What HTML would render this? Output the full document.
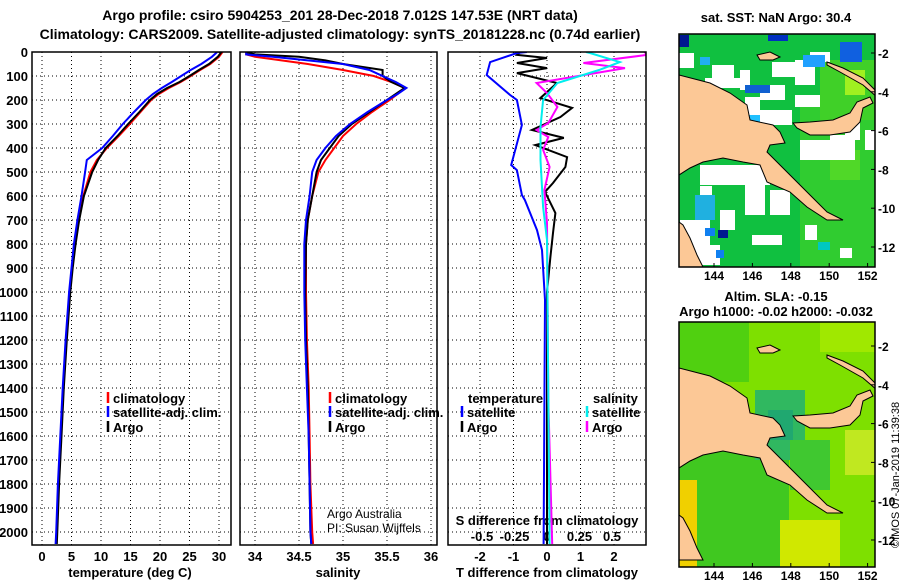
<!DOCTYPE html>
<html><head><meta charset="utf-8"><style>
body{margin:0;background:#fff;}
svg{display:block;font-family:"Liberation Sans",sans-serif;}
.b{font-weight:bold;font-size:13px;}
.m{font-weight:bold;font-size:12px;}
.t{font-weight:bold;font-size:14px;}
</style></head><body>
<svg id="c" width="900" height="580" viewBox="0 0 900 580"></svg>
<script>
// ---- data ----
const tempDepth=[0,20,50,75,100,125,150,175,200,250,300,350,400,450,500,600,700,800,900,1000,1200,1400,1600,1800,2000,2050];
const tempArgo=[30.4,29.8,28.3,26.6,25.0,23.3,21.2,19.5,18.3,16.5,14.6,12.8,10.8,9.5,8.5,7.1,6.3,5.7,5.2,4.8,4.2,3.7,3.3,2.9,2.6,2.5];
const tempClim=[30.6,30.0,28.5,26.8,25.2,23.5,21.5,19.8,18.5,16.7,14.9,13.0,11.0,9.3,8.2,7.0,6.2,5.6,5.1,4.7,4.1,3.6,3.2,2.8,2.5,2.4];
const tempSat=[29.7,28.8,27.0,25.2,23.6,22.0,20.3,18.8,17.6,15.6,13.7,12.0,10.2,7.6,7.3,6.7,6.0,5.4,5.0,4.6,4.0,3.5,3.1,2.7,2.4,2.3];
const salDepth=[0,10,20,35,50,75,100,125,150,175,200,250,300,350,400,450,500,600,700,800,1000,1200,1400,1600,1800,2000,2050];
const salArgo=[33.9,34.0,34.5,34.8,35.0,35.45,35.45,35.55,35.7,35.6,35.5,35.3,35.1,34.95,34.85,34.75,34.7,34.65,34.6,34.58,34.57,34.58,34.6,34.61,34.62,34.63,34.64];
const salClim=[33.9,33.9,34.0,34.3,34.6,35.0,35.35,35.55,35.7,35.62,35.53,35.33,35.15,35.0,34.9,34.8,34.72,34.65,34.6,34.58,34.58,34.59,34.61,34.62,34.63,34.65,34.66];
const salSat=[33.9,33.9,34.2,34.6,35.0,35.3,35.45,35.6,35.72,35.62,35.5,35.28,35.08,34.92,34.8,34.7,34.65,34.62,34.58,34.56,34.56,34.57,34.59,34.61,34.62,34.63,34.64];
const dtSatDepth=[0,4,42,96,179,200,304,471,492,596,617,742,825,1033,2050];
const dtSat=[-0.6,-0.9,-1.7,-1.8,-1.1,-0.9,-0.75,-1.07,-0.9,-0.75,-0.66,-0.3,-0.15,-0.06,-0.1];
const dtArgoDepth=[0,12,25,46,67,88,129,192,233,271,325,358,388,438,479,546,583,671,754,854,1000,2050];
const dtArgo=[-0.8,-0.9,0.0,-0.9,0.0,-0.9,0.3,-0.2,0.75,0.4,-0.45,0.5,-0.35,0.6,0.55,0.18,-0.06,0.25,0.18,0.1,0.0,0.0];
const dsArgoDepth=[0,12,46,67,129,171,229,296,325,354,408,479,575,713,1450,2050];
const dsArgo=[0.75,0.77,0.28,0.6,-0.08,0.0,0.08,0.01,-0.08,0.01,-0.03,0.02,-0.02,0.0,0.01,0.04];
const dsSatDepth=[0,4,42,75,129,200,313,450,646,783,2050];
const dsSat=[0.3,0.33,0.56,0.4,0.08,-0.03,-0.05,-0.05,-0.03,0.0,0.02];
const depthTicks=[0,100,200,300,400,500,600,700,800,900,1000,1100,1200,1300,1400,1500,1600,1700,1800,1900,2000];
const tTicks=[0,5,10,15,20,25,30];
const sTicks=[34,34.5,35,35.5,36];
const dtTicks=[-2,-1,0,1,2];
const dsTicks=[-0.5,-0.25,0,0.25,0.5];
const latTicks=[-2,-4,-6,-8,-10,-12];
const lonTicks=[144,146,148,150,152];

const NS="http://www.w3.org/2000/svg";
const svg=document.getElementById('c');
function el(tag,attrs,parent){const e=document.createElementNS(NS,tag);for(const k in attrs)e.setAttribute(k,attrs[k]);(parent||svg).appendChild(e);return e;}
function txt(s,x,y,cls,anchor,parent){const e=el('text',{x:x,y:y,class:cls||'b','text-anchor':anchor||'start'},parent);e.textContent=s;return e;}

const Y=d=>52+d*0.24;
const X1=v=>42+v*5.9;
const X2=v=>255+(v-34)*88;
const X3=v=>547+v*33.5;
const X3s=v=>547+v*130;
const panels=[[32,231],[240,437],[448,646]];
const TOP=52,BOT=545;

let t=txt('Argo profile: csiro 5904253_201 28-Dec-2018 7.012S 147.53E (NRT data)',340,20,'t','middle');


t=txt('Climatology: CARS2009. Satellite-adjusted climatology: synTS_20181228.nc (0.74d earlier)',340,39,'t','middle');



const defs=el('defs',{});
panels.forEach((p,i)=>{const cp=el('clipPath',{id:'cp'+i},defs);el('rect',{x:p[0],y:TOP,width:p[1]-p[0],height:BOT-TOP},cp);});

panels.forEach((p,i)=>{
  const g=el('g',{});
  
  
  depthTicks.forEach(d=>{if(d>0)el('line',{x1:p[0],x2:p[1],y1:Y(d),y2:Y(d),stroke:'#000','stroke-width':1,'stroke-dasharray':'1,3'},g);});
  const ticks=i==0?tTicks:i==1?sTicks:dtTicks;
  const f=i==0?X1:i==1?X2:X3;
  ticks.forEach(v=>el('line',{x1:f(v),x2:f(v),y1:TOP,y2:BOT,stroke:'#000','stroke-width':1,'stroke-dasharray':'1,3'},g));
});
depthTicks.forEach(d=>{const e=txt(String(d),28,Y(d)+5,'b','end');

});
tTicks.forEach(v=>{const e=txt(String(v),X1(v),561,'b','middle');

});
sTicks.forEach(v=>{const e=txt(String(v),X2(v),561,'b','middle');

});
dtTicks.forEach(v=>{const e=txt(String(v),X3(v),561,'b','middle');

});
dsTicks.forEach(v=>{const e=txt(String(v),X3s(v),541,'b','middle');

});
t=txt('temperature (deg C)',130,577,'b','middle');


t=txt('salinity',338,577,'b','middle');


t=txt('T difference from climatology',547,577,'b','middle');


t=txt('S difference from climatology',547,525,'b','middle');



function line(xs,ds,fx,color,ci,name){
  const pts=xs.map((v,i)=>fx(v).toFixed(1)+','+Y(ds[i]).toFixed(1)).join(' ');
  const e=el('polyline',{points:pts,fill:'none',stroke:color,'stroke-width':2,'clip-path':'url(#cp'+ci+')'});
  
  
}
line(tempClim,tempDepth,X1,'#f00',0,'temp-climatology-line');
line(tempArgo,tempDepth,X1,'#000',0,'temp-argo-line');
line(tempSat,tempDepth,X1,'#00f',0,'temp-satellite-line');
line(salClim,salDepth,X2,'#f00',1,'sal-climatology-line');
line(salArgo,salDepth,X2,'#000',1,'sal-argo-line');
line(salSat,salDepth,X2,'#00f',1,'sal-satellite-line');
line(dtArgo,dtArgoDepth,X3,'#000',2,'t-diff-argo-line');
line(dsArgo,dsArgoDepth,X3s,'#f0f',2,'s-diff-argo-line');
line(dsSat,dsSatDepth,X3s,'#0ee',2,'s-diff-satellite-line');
line(dtSat,dtSatDepth,X3,'#00f',2,'t-diff-satellite-line');

panels.forEach((p,i)=>{const e=el('rect',{x:p[0],y:TOP,width:p[1]-p[0],height:BOT-TOP,fill:'none',stroke:'#000','stroke-width':1.5});

});

function leg(x,y,color,label,name){
  const g=el('g',{});
  
  
  el('line',{x1:x,x2:x,y1:y-11,y2:y,stroke:color,'stroke-width':2.5},g);
  txt(label,x+5,y,'b','start',g);
}
leg(108,403,'#f00','climatology','legend-temp-climatology');
leg(108,417,'#00f','satellite-adj. clim.','legend-temp-satellite');
leg(108,432,'#000','Argo','legend-temp-argo');
leg(330,403,'#f00','climatology','legend-sal-climatology');
leg(330,417,'#00f','satellite-adj. clim.','legend-sal-satellite');
leg(330,432,'#000','Argo','legend-sal-argo');
t=txt('temperature',468,403,'b');


leg(462,417,'#00f','satellite','legend-tdiff-satellite');
leg(462,432,'#000','Argo','legend-tdiff-argo');
t=txt('salinity',593,403,'b');


leg(587,417,'#0ee','satellite','legend-sdiff-satellite');
leg(587,432,'#f0f','Argo','legend-sdiff-argo');
t=el('text',{x:327,y:518,'font-size':12});t.textContent='Argo Australia';


t=el('text',{x:327,y:532,'font-size':12});t.textContent='PI: Susan Wijffels';



// ---- maps (coords are for top map; bottom map shifted) ----
const land=[[679,75],[710,83],[730,93],[747,105],[750,120],[773,125],[780,132],[785,143],[770,145],[767,152],[780,165],[797,182],[813,198],[827,212],[843,220],[827,220],[807,207],[790,192],[767,182],[760,165],[743,162],[723,158],[703,162],[690,168],[679,175]];
const nbrit=[[793,123],[810,122],[833,120],[850,113],[857,102],[870,97],[873,103],[863,108],[860,122],[850,132],[830,135],[810,135],[797,128]];
const nireland=[[827,62],[843,68],[863,78],[877,92],[877,97],[863,85],[840,72],[827,65]];
const manus=[[757,55],[770,52],[780,57],[773,60],[760,60]];
const cape=[[679,222],[683,225],[690,238],[697,255],[703,267],[679,267]];

function drawMap(top,bot,shift,ocean,name,patches,latOff){
  const g=el('g',{});
  
  
  const cid='mc'+name;const cp=el('clipPath',{id:cid},defs);el('rect',{x:679,y:top,width:196,height:bot-top},cp);
  const inner=el('g',{'clip-path':'url(#'+cid+')'},g);
  el('rect',{x:679,y:top,width:196,height:bot-top,fill:ocean},inner);
  patches.forEach(p=>el('rect',{x:p[0],y:p[1],width:p[2],height:p[3],fill:p[4]},inner));
  const lg=el('g',{transform:'translate(0,'+shift+')'},inner);
  [land,nbrit,cape,nireland,manus].forEach(a=>el('polygon',{points:a.map(p=>p.join(',')).join(' '),fill:'#fcc896',stroke:'#000','stroke-width':1},lg));
  el('rect',{x:679,y:top,width:196,height:bot-top,fill:'none',stroke:'#000','stroke-width':1.5},g);
  latTicks.forEach(v=>{const y=latOff+(-2-v)*19.4;el('line',{x1:875,x2:871,y1:y,y2:y,stroke:'#000'},g);txt(String(v),878,y+5,'m','start',g);});
  lonTicks.forEach(v=>{const x=714+(v-144)*19.2;el('line',{x1:x,x2:x,y1:bot,y2:bot-4,stroke:'#000'},g);txt(String(v),x,bot+13,'m','middle',g);});
}
const W='#fff';
drawMap(34,267,0,'#10c040','sst-map',[
 [800,95,75,172,'#30cc30'],[820,60,55,60,'#40d028'],[845,70,20,25,'#a0f020'],[830,150,30,30,'#50d828'],
 [679,53,15,15,W],[712,65,22,15,W],[705,78,35,10,W],[740,70,10,20,W],[760,85,25,15,W],[745,97,15,25,W],
 [757,110,35,15,W],[772,62,25,15,W],[795,60,20,25,W],[810,52,20,10,W],[795,95,25,12,W],[800,140,55,20,W],
 [830,135,25,15,W],[845,120,15,20,W],[865,130,12,20,W],[700,165,70,20,W],[680,220,30,45,W],[705,245,15,20,W],
 [745,180,20,35,W],[720,210,15,20,W],[770,190,20,25,W],[805,225,12,15,W],[840,248,12,10,W],[700,186,12,12,W],
 [752,235,30,10,W],
 [679,35,10,12,'#001890'],[768,35,20,6,'#0030c0'],[840,42,22,20,'#1060e0'],[803,55,22,12,'#20a0ff'],
 [745,85,25,8,'#1060d0'],[700,57,10,8,'#20b0f0'],[748,115,12,10,'#20c0ff'],[695,195,20,25,'#20b0e0'],
 [718,230,10,8,'#001890'],[705,228,10,8,'#1080f0'],[716,250,8,8,'#1080f0'],[818,242,12,8,'#00c8c0']],53);
drawMap(322,567,293,'#7ee000','sla-map',[
 [679,322,70,60,'#50d010'],[679,450,110,117,'#40c820'],[755,390,50,70,'#30b860'],[768,410,25,30,'#20a870'],
 [790,440,40,50,'#40c830'],[845,430,30,45,'#c0e820'],[679,480,18,87,'#f0d000'],[780,520,60,47,'#d0e800'],
 [820,322,55,30,'#a0e800']],346);

t=txt('sat. SST: NaN Argo: 30.4',776,22,'b','middle');


t=txt('Altim. SLA: -0.15',776,301,'b','middle');


t=txt('Argo h1000: -0.02 h2000: -0.032',776,316,'b','middle');


t=el('text',{x:0,y:0,'font-size':11,transform:'translate(899,548) rotate(-90)'});t.textContent='©IMOS 07-Jan-2019 11:39:38';


</script>
</body></html>
